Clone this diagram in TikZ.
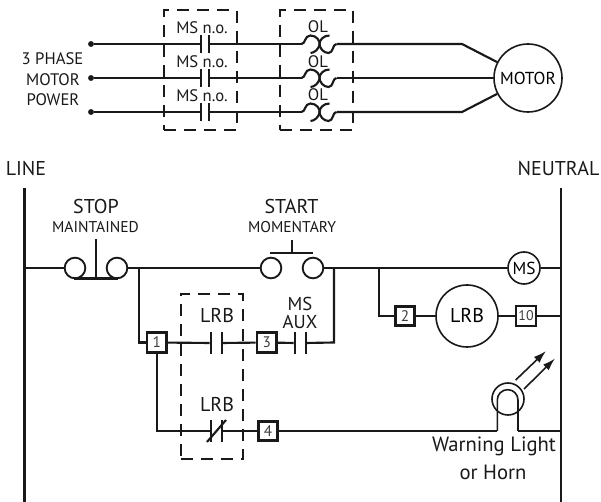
\documentclass[tikz,border=0pt]{standalone}
\usepackage{fontspec}
\setmainfont{PT Sans}
\usetikzlibrary{arrows.meta}

\begin{document}
\begin{tikzpicture}[
  x=0.75pt, y=-0.75pt,
  wire/.style={line width=1.6pt, color=black!90},
  thin wire/.style={line width=1.2pt, color=black!90},
  dashbox/.style={line width=1.4pt, dash pattern=on 9pt off 6pt, color=black!90},
  plate/.style={rectangle, fill=black!90, inner sep=0pt, minimum width=1.5pt, minimum height=13.5pt},
  dot/.style={circle, fill=black!90, inner sep=0pt, minimum size=4.4pt},
  btn/.style={circle, draw=black!90, line width=1.4pt, inner sep=0pt, minimum size=15.5pt},
  coil/.style={circle, draw=black!90, line width=1.2pt, inner sep=0pt, fill=white, font=\fontsize{13}{13}\selectfont},
  wirebox/.style={rectangle, draw=black!90, line width=2.1pt, fill=white, inner sep=0pt, minimum size=14.5pt, font=\fontsize{11.5}{11.5}\selectfont, text=black!75},
  lbl/.style={inner sep=0pt, align=center, text=black!90, font=\fontsize{12.5}{14}\selectfont},
  biglbl/.style={inner sep=0pt, align=center, text=black!90, font=\fontsize{15}{15}\selectfont},
  smalllbl/.style={inner sep=0pt, align=center, text=black!90, font=\fontsize{11.7}{11.7}\selectfont},
  olfuse/.pic={
    \coordinate (-in) at (-18,0);
    \coordinate (-out) at (17,0);
    \draw[wire] (-in) .. controls (-14,0) and (-15,-8.5) .. (-9,-8.5)
      .. controls (-3,-8.5) and (1,-3) .. (0,1) .. controls (-1,5) and (-5,9) .. (-9,9);
    \draw[wire] (10,-8.5) .. controls (4,-8.5) and (0,-4) .. (0,0)
      .. controls (0,4) and (4,9) .. (9,9) .. controls (14,9) and (13,0) .. (-out);
  }
]
\useasboundingbox (0,0) rectangle (601,502);

% Power section
\node[dot] (ph1) at (91,44) {};
\node[dot] (ph2) at (91,78) {};
\node[dot] (ph3) at (91,112) {};
\node[lbl] (phase1) at (52.5,59) {3 PHASE};
\node[lbl] (phase2) at (53,79.5) {MOTOR};
\node[lbl] (phase3) at (53,100) {POWER};

\node[plate] (ms1a) at (201,44) {};
\node[plate] (ms1b) at (208.5,44) {};
\node[plate] (ms2a) at (201,78) {};
\node[plate] (ms2b) at (208.5,78) {};
\node[plate] (ms3a) at (201,112) {};
\node[plate] (ms3b) at (208.5,112) {};
\node[lbl] (mslbl1) at (202,28) {MS n.o.};
\node[lbl] (mslbl2) at (202,61.5) {MS n.o.};
\node[lbl] (mslbl3) at (202,95.5) {MS n.o.};

\pic (ol1) at (319.5,44) {olfuse};
\pic (ol2) at (319.5,78) {olfuse};
\pic (ol3) at (319.5,112) {olfuse};
\node[lbl] (ollbl1) at (318,27) {OL};
\node[lbl] (ollbl2) at (318,61.5) {OL};
\node[lbl] (ollbl3) at (318,95) {OL};

\node[coil, minimum size=51pt] (motor) at (528,78) {MOTOR};
\coordinate (bend1) at (462,44);
\coordinate (bend3) at (462,112);

% Dashed enclosures
\node[dashbox, draw, rectangle, minimum width=54.5pt, minimum height=90pt, inner sep=0pt] (msbox) at (200.3,70) {};
\node[dashbox, draw, rectangle, minimum width=54.5pt, minimum height=90pt, inner sep=0pt] (olbox) at (316.5,70) {};

\draw[wire] (ph1) -- (ms1a);
\draw[wire] (ph2) -- (ms2a);
\draw[wire] (ph3) -- (ms3a);
\draw[wire] (ms1b) -- (ol1-in);
\draw[wire] (ms2b) -- (ol2-in);
\draw[wire] (ms3b) -- (ol3-in);
\draw[wire] (ol1-out) -- (bend1) -- (motor);
\draw[wire] (ol2-out) -- (motor);
\draw[wire] (ol3-out) -- (bend3) -- (motor);

% Rails
\node[biglbl] (line) at (26,169) {LINE};
\node[biglbl] (neutral) at (558.5,169) {NEUTRAL};
\coordinate (linetop) at (24.5,188);
\coordinate (linebot) at (24.5,502);
\coordinate (neutop) at (561,188);
\coordinate (neubot) at (561,502);
\draw[wire] (linetop) -- (linebot);
\draw[wire] (neutop) -- (neubot);

% Rung 1
\coordinate (r1l) at (24.5,268);
\coordinate (r1r) at (561,268);
\coordinate (j1) at (139,268);
\coordinate (j2) at (334,268);
\coordinate (j3) at (378.7,268);
\node[btn] (stopa) at (75,268) {};
\node[btn] (stopb) at (117,268) {};
\node[btn] (starta) at (271,268) {};
\node[btn] (startb) at (313,268) {};
\node[coil, minimum size=24pt] (ms) at (524,268) {MS};
\node[biglbl] (stop) at (96,207) {STOP};
\node[smalllbl] (maint) at (95.5,227) {MAINTAINED};
\node[biglbl] (start) at (291.5,207) {START};
\node[smalllbl] (moment) at (292,227) {MOMENTARY};

\draw[wire] (r1l) -- (stopa);
\draw[wire] (stopb) -- (starta);
\draw[wire] (startb) -- (ms);
\draw[wire] (ms) -- (r1r);

% Push buttons
\coordinate (stopbara) at (74,278.5);
\coordinate (stopbarb) at (118,278.5);
\coordinate (stopmid) at (96,278.5);
\coordinate (stoptop) at (96,239);
\draw[wire] (stopbara) -- (stopbarb);
\draw[wire] (stoptop) -- (stopmid);
\coordinate (startbara) at (270,253);
\coordinate (startbarb) at (313,253);
\coordinate (startmid) at (291.7,253);
\coordinate (starttop) at (291.7,240);
\draw[wire] (startbara) -- (startbarb);
\draw[wire] (starttop) -- (startmid);

% Rung 2
\node[wirebox] (b2) at (405,316) {2};
\node[coil, minimum size=46.5pt, font=\fontsize{15}{15}\selectfont] (lrb) at (467,316) {LRB};
\node[wirebox, line width=1.7pt, font=\fontsize{10.5}{10.5}\selectfont] (b10) at (526,316) {10};
\coordinate (r2r) at (561,316);
\draw[wire, line width=1.3pt] (j3) |- (b2);
\draw[wire, line width=1.3pt] (b2) -- (lrb);
\draw[wire, line width=1.3pt] (lrb) -- (b10);
\draw[wire, line width=1.3pt] (b10) -- (r2r);

% Rung 3
\node[dashbox, draw, rectangle, line width=1.2pt, minimum width=46.5pt, minimum height=124pt, inner sep=0pt] (lrbbox) at (212,376.5) {};
\node[wirebox] (b1) at (156.7,342.5) {1};
\node[wirebox] (b3) at (266.7,342.5) {3};
\node[plate, minimum height=16.5pt] (lrb1a) at (211,343) {};
\node[plate, minimum height=16.5pt] (lrb1b) at (221.5,343) {};
\node[plate, minimum height=16.5pt] (auxa) at (295,343) {};
\node[plate, minimum height=16.5pt] (auxb) at (305.5,343) {};
\node[biglbl] (lrblbl1) at (217,316) {LRB};
\node[biglbl, font=\fontsize{14}{14}\selectfont] (aux1) at (300,304) {MS};
\node[biglbl, font=\fontsize{14}{14}\selectfont] (aux2) at (300,322) {AUX};
\coordinate (b1in) at (139,342.5);
\coordinate (j2b) at (334,342.5);
\draw[wire] (j1) -- (b1in) -- (b1);
\draw[wire] (b1) -- (lrb1a);
\draw[wire] (lrb1b) -- (b3);
\draw[wire] (b3) -- (auxa);
\draw[wire] (auxb) -- (j2b) -- (j2);

% Rung 4
\node[plate, minimum height=16.5pt] (lrb2a) at (211,431) {};
\node[plate, minimum height=16.5pt] (lrb2b) at (221.5,431) {};
\node[wirebox] (b4) at (268,431) {4};
\node[biglbl] (lrblbl2) at (217,405) {LRB};
\coordinate (slasha) at (207,442);
\coordinate (slashb) at (226,420);
\coordinate (b1down) at (156.7,431);
\coordinate (lampa) at (497.3,431);
\coordinate (lampb) at (518,431);
\coordinate (r4r) at (561,431);
\draw[wire] (b1) -- (b1down) -- (lrb2a);
\draw[wire] (lrb2b) -- (b4);
\draw[wire] (slasha) -- (slashb);
\draw[wire] (b4) -- (lampa);
\draw[thin wire] (lampa) -- (497.3,400) arc[start angle=180, end angle=360, radius=10.35] -- (lampb);
\draw[wire] (lampb) -- (r4r);
\node[btn, line width=1.2pt, minimum size=24pt] (lamp) at (508,399) {};

% Light arrows
\coordinate (ar1a) at (515.7,380);
\coordinate (ar1b) at (546,351);
\coordinate (ar2a) at (524,389);
\coordinate (ar2b) at (555,358.5);
\draw[thin wire, -{Latex[length=9.5pt, width=6pt]}] (ar1a) -- (ar1b);
\draw[thin wire, -{Latex[length=9.5pt, width=6pt]}] (ar2a) -- (ar2b);

\node[biglbl, font=\fontsize{15.5}{15.5}\selectfont] (warn) at (494,446) {Warning Light};
\node[biglbl, font=\fontsize{15.5}{15.5}\selectfont] (horn) at (493,472) {or Horn};

\end{tikzpicture}
\end{document}
